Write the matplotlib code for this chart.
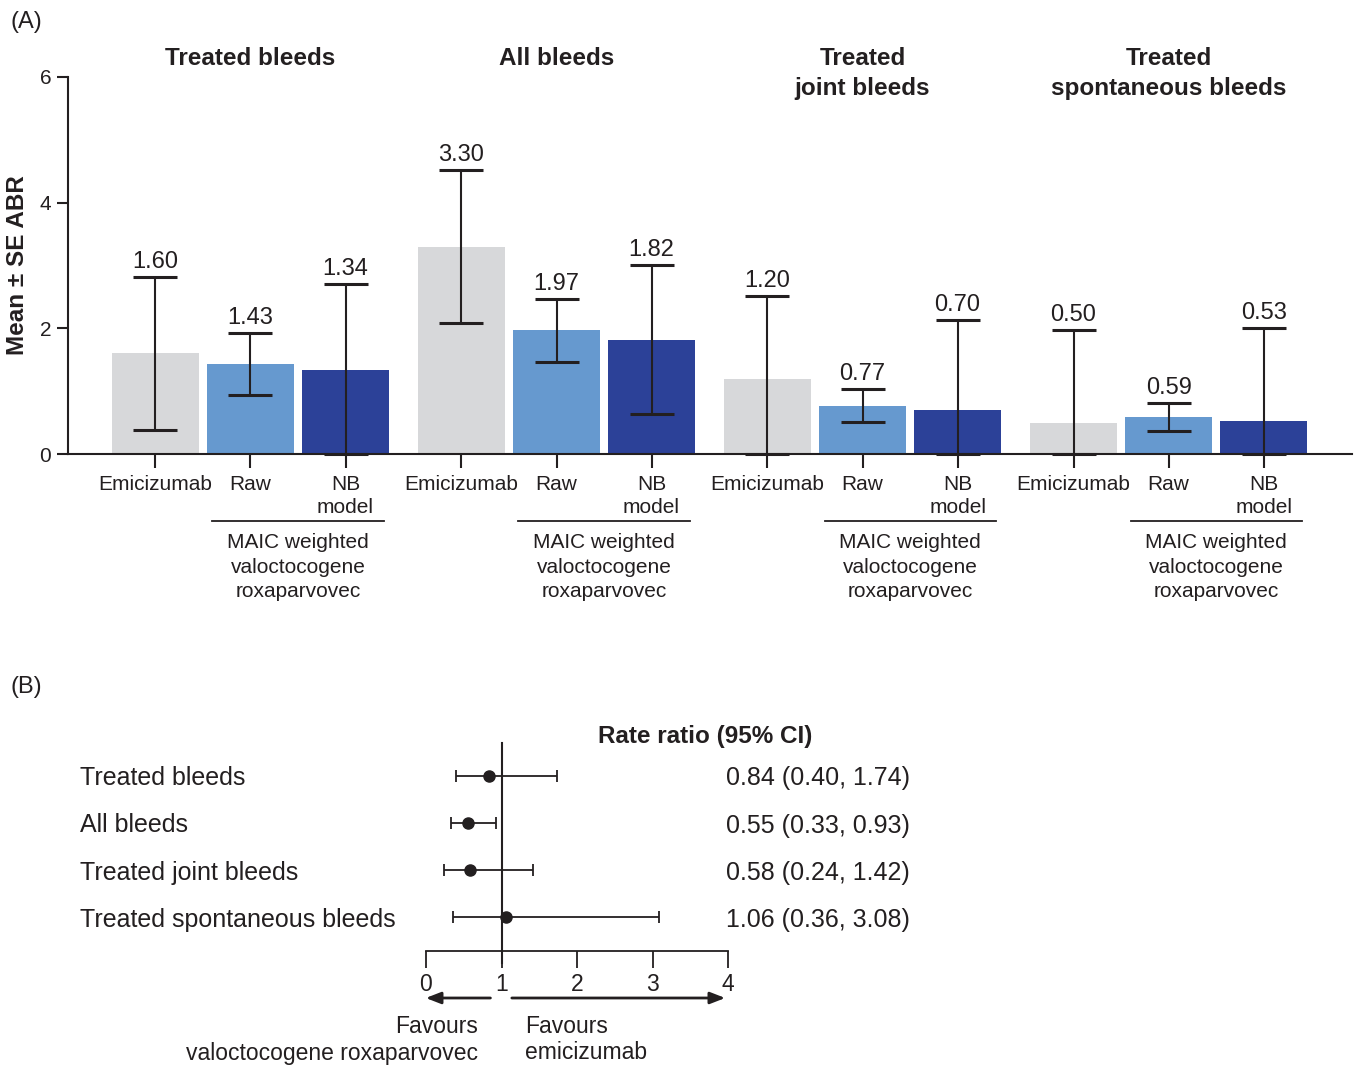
import numpy as np
import matplotlib
matplotlib.use("Agg")
from matplotlib import pyplot as plt
from matplotlib import transforms

plt.rcParams.update({
    "font.family": ["Liberation Sans", "DejaVu Sans"],
    "text.color": "#231f20",
    "axes.edgecolor": "#231f20",
    "xtick.color": "#231f20",
    "ytick.color": "#231f20",
    "axes.linewidth": 1.5,
})

# ---- data, panel A
groups = ["Treated bleeds", "All bleeds", "Treated\njoint bleeds", "Treated\nspontaneous bleeds"]
arms = ["Emicizumab", "Raw", "NB\nmodel"]
emicizumab_abr = [1.60, 3.30, 1.20, 0.50]
raw_abr = [1.43, 1.97, 0.77, 0.59]
nb_abr = [1.34, 1.82, 0.70, 0.53]
emicizumab_se = [1.22, 1.22, 1.31, 1.47]
raw_se = [0.49, 0.50, 0.26, 0.22]
nb_se = [1.37, 1.19, 1.43, 1.48]
bracket_text = "MAIC weighted\nvaloctocogene\nroxaparvovec"

# ---- data, panel B
outcomes = ["Treated bleeds", "All bleeds", "Treated joint bleeds", "Treated spontaneous bleeds"]
rate_ratio = [0.84, 0.55, 0.58, 1.06]
ci_low = [0.40, 0.33, 0.24, 0.36]
ci_high = [1.74, 0.93, 1.42, 3.08]

colors = ["#d7d8da", "#6699cf", "#2c4198"]
ink = "#231f20"

W, H = 1356, 1065
fy = lambda y: 1 - y / H   # pixel row from top -> figure fraction
fx = lambda x: x / W

fig = plt.figure(figsize=(W / 100, H / 100), dpi=100)

# ================= Panel A =================
axA = fig.add_axes([fx(68), fy(454), fx(1352 - 68), (454 - 77) / H])
tr = transforms.blended_transform_factory(axA.transData, fig.transFigure)
gap = 3.22
means = [emicizumab_abr, raw_abr, nb_abr]
ses = [emicizumab_se, raw_se, nb_se]
tick_pos, tick_lab = [], []
for g in range(len(groups)):
    base = g * gap
    for a in range(3):
        x = base + a
        m = means[a][g]
        se = ses[a][g]
        axA.bar(x, m, width=0.916, color=colors[a], zorder=1)
        axA.errorbar(x, m, yerr=[[min(se, m)], [se]], fmt="none", ecolor=ink,
                     elinewidth=1.5, capsize=15.5, capthick=2.2, zorder=3, clip_on=False)
        axA.annotate(f"{m:.2f}", (x, m + se), xytext=(0, 3), textcoords="offset points",
                     ha="center", va="bottom", fontsize=17)
        tick_pos.append(x)
        tick_lab.append(arms[a])
    # group title
    axA.text(base + 1, fy(47), groups[g], transform=tr,
             ha="center", va="top", fontsize=17.5, fontweight="bold", linespacing=1.4)
    # bracket under Raw / NB model
    axA.plot([base + 1 - 0.4, base + 2 + 0.4], [fy(521), fy(521)], color=ink, lw=1.3,
             transform=tr, clip_on=False)
    axA.text(base + 1.5, fy(533), bracket_text, transform=tr, ha="center", va="top",
             fontsize=15, linespacing=1.38)

axA.set_xlim(-0.92, 3 * gap + 2 + 0.93)
axA.set_ylim(0, 6)
axA.set_yticks([0, 2, 4, 6])
axA.tick_params(axis="y", labelsize=15, length=8, width=1.5, pad=4)
axA.set_xticks(tick_pos)
axA.set_xticklabels(tick_lab, fontsize=15, linespacing=1.3)
axA.tick_params(axis="x", length=10, width=1.5, pad=5)
for s in ["top", "right"]:
    axA.spines[s].set_visible(False)
axA.spines["left"].set_bounds(0, 6)

fig.text(fx(18), fy(265), "Mean \u00b1 SE ABR", rotation=90, ha="center", va="center",
         fontsize=17.5, fontweight="bold")
fig.text(fx(10), fy(22), "(A)", ha="left", va="center", fontsize=17)

# ================= Panel B =================
axB = fig.add_axes([fx(426), fy(951), fx(728 - 426), (951 - 743) / H])
rows = np.arange(len(outcomes))
axB.errorbar(rate_ratio, rows, xerr=[np.subtract(rate_ratio, ci_low), np.subtract(ci_high, rate_ratio)],
             fmt="o", color=ink, ms=8, elinewidth=1.3, capsize=4, capthick=1.3, zorder=3)
axB.axvline(1, color=ink, lw=1.5, zorder=2, clip_on=False, ymin=-0.06)
axB.set_xlim(0, 4)
axB.set_ylim(3.72, -0.70)
axB.set_xticks([0, 1, 2, 3, 4])
axB.tick_params(axis="x", labelsize=16.5, length=12, width=1.3, pad=4)
axB.set_yticks([])
for s in ["top", "right", "left"]:
    axB.spines[s].set_visible(False)
axB.spines["bottom"].set_linewidth(1.3)

trB = transforms.blended_transform_factory(fig.transFigure, axB.transData)
for i, name in enumerate(outcomes):
    axB.text(fx(80), rows[i], name, transform=trB, ha="left", va="center_baseline", fontsize=18)
    axB.text(fx(726), rows[i], f"{rate_ratio[i]:.2f} ({ci_low[i]:.2f}, {ci_high[i]:.2f})",
             transform=trB, ha="left", va="center_baseline", fontsize=18)
fig.text(fx(705), fy(736), "Rate ratio (95% CI)", ha="center", va="center",
         fontsize=17.5, fontweight="bold")
fig.text(fx(10), fy(687), "(B)", ha="left", va="center", fontsize=17)

# favours arrows
trA = transforms.blended_transform_factory(axB.transData, fig.transFigure)
axB.annotate("", xy=(-0.04, fy(998)), xytext=(0.89, fy(998)), xycoords=trA, textcoords=trA,
             arrowprops=dict(arrowstyle="-|>,head_length=0.9,head_width=0.35", color=ink, lw=2))
axB.annotate("", xy=(4.0, fy(998)), xytext=(1.1, fy(998)), xycoords=trA, textcoords=trA,
             arrowprops=dict(arrowstyle="-|>,head_length=0.9,head_width=0.35", color=ink, lw=2))
fig.text(fx(478), fy(1015), "Favours", ha="right", va="top", fontsize=16.5)
fig.text(fx(478), fy(1042), "valoctocogene roxaparvovec", ha="right", va="top", fontsize=16.5)
fig.text(fx(525), fy(1015), "Favours", ha="left", va="top", fontsize=16.5)
fig.text(fx(525), fy(1041), "emicizumab", ha="left", va="top", fontsize=16.5)

fig.savefig("out.png", dpi=100)
